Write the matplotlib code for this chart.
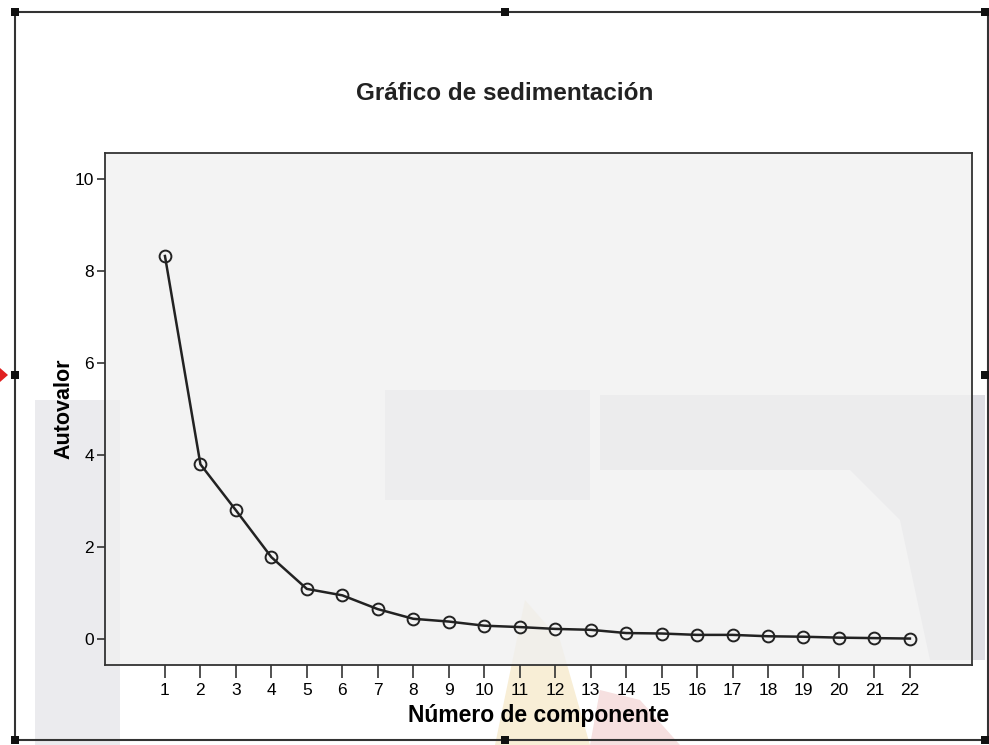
import numpy as np
import matplotlib
matplotlib.use("Agg")
import matplotlib.pyplot as plt
from matplotlib.patches import Rectangle, Polygon

plt.rcParams['font.family'] = ['Liberation Sans', 'DejaVu Sans']

componentes = list(range(1, 23))
autovalores = [8.33, 3.80, 2.80, 1.78, 1.09, 0.95, 0.65, 0.44, 0.38, 0.29, 0.26,
               0.22, 0.20, 0.13, 0.12, 0.09, 0.09, 0.06, 0.05, 0.03, 0.02, 0.01]
y_ticks = [0, 2, 4, 6, 8, 10]

titulo = "Gráfico de sedimentación"
x_label = "Número de componente"
y_label = "Autovalor"

W, H = 989, 745
fig = plt.figure(figsize=(W / 100, H / 100), dpi=100)
fig.patch.set_facecolor("white")

def fx(px):
    return px / W

def fy(py):
    return 1 - py / H

# marca de agua (decoracion tenue, detras de todo)
wm = [
    ([(35, 400), (120, 400), (120, 745), (35, 745)], "#ebebee"),
    ([(600, 395), (985, 395), (985, 660), (930, 660), (900, 520), (850, 470), (600, 470)], "#dedee4"),
    ([(385, 390), (590, 390), (590, 500), (385, 500)], "#e6e6ea"),
    ([(525, 600), (560, 640), (590, 745), (495, 745)], "#f8eed6"),
    ([(600, 690), (640, 700), (680, 745), (590, 745)], "#f6e0e0"),
]
for pts, col in wm:
    fig.patches.append(Polygon([(fx(x), fy(y)) for x, y in pts], closed=True,
                               transform=fig.transFigure, facecolor=col,
                               edgecolor="none", zorder=-1))

ax = fig.add_axes([fx(105), fy(665), fx(972) - fx(105), fy(153) - fy(665)])
ax.set_facecolor("#f0f0f0")
ax.patch.set_alpha(0.8)

ax.plot(componentes, autovalores, color="#222222", linewidth=1.8,
        marker="o", markersize=8.5, markerfacecolor="none",
        markeredgecolor="#222222", markeredgewidth=1.4)

ax.set_xlim(-0.69, 23.75)
ax.set_ylim(-0.565, 10.57)
ax.set_xticks(componentes)
ax.set_xticklabels([str(c) for c in componentes])
ax.set_yticks(y_ticks)

ax.tick_params(axis="x", length=9, width=1.2, color="#333333", labelsize=12.5, pad=4)
ax.tick_params(axis="y", length=6, width=1.2, color="#333333", labelsize=12.5, pad=2)
for s in ax.spines.values():
    s.set_color("#333333")
    s.set_linewidth(1.3)

ax.set_xlabel(x_label, fontsize=16.5, fontweight="bold", labelpad=4)
ax.set_ylabel(y_label, fontsize=15.5, fontweight="bold", labelpad=0)

fig.text(fx(505), fy(94), titulo, ha="center", va="center",
         fontsize=17.5, fontweight="bold", color="#222222")

# marco del objeto seleccionado
frame = Rectangle((fx(15), fy(740)), fx(988) - fx(15), fy(12) - fy(740),
                  transform=fig.transFigure, fill=False, edgecolor="#333333",
                  linewidth=1.5, zorder=5)
fig.patches.append(frame)
hs = 8
for hx, hy in [(15, 12), (505, 12), (985, 12), (15, 375), (985, 375),
               (15, 740), (505, 740), (985, 740)]:
    fig.patches.append(Rectangle((fx(hx - hs / 2), fy(hy + hs / 2)), hs / W, hs / H,
                                 transform=fig.transFigure, facecolor="#111111",
                                 edgecolor="none", zorder=6))
fig.patches.append(Polygon([(fx(0), fy(368)), (fx(8), fy(375)), (fx(0), fy(382))],
                           closed=True, transform=fig.transFigure,
                           facecolor="#e02020", edgecolor="none", zorder=6))

fig.savefig("out.png", dpi=100)
